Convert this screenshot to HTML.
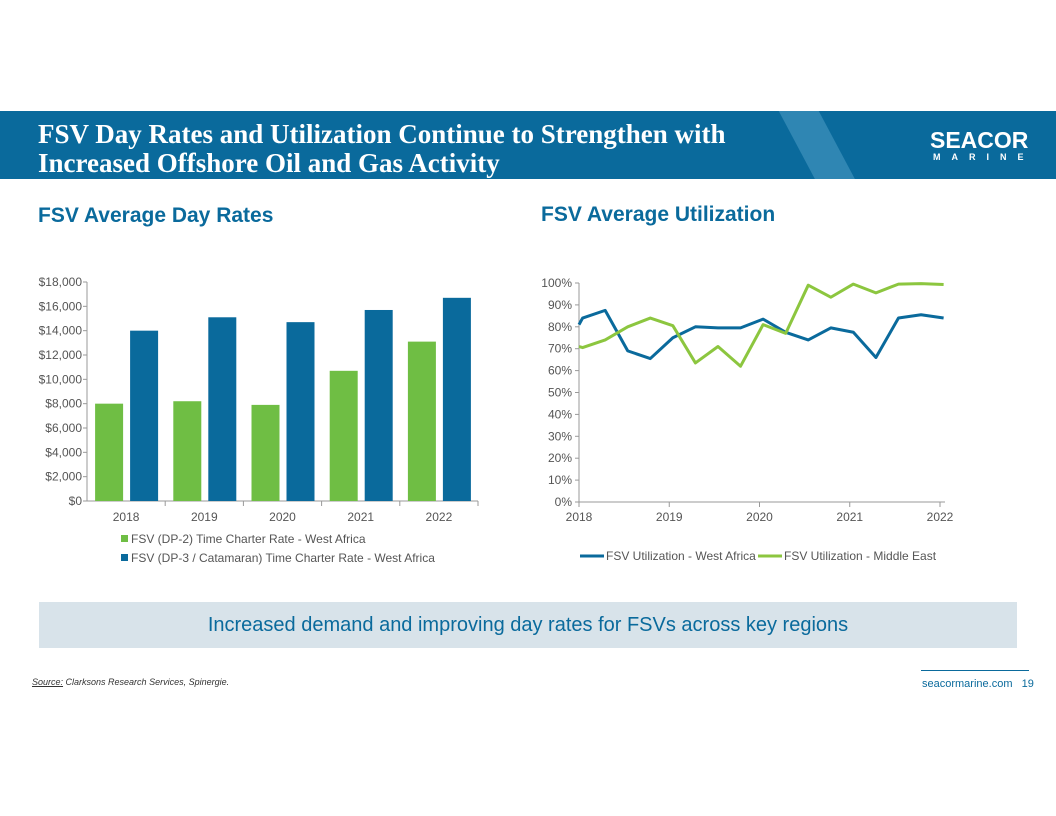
<!DOCTYPE html>
<html><head><meta charset="utf-8">
<style>
body{margin:0;width:1056px;height:816px;background:#fff;font-family:"Liberation Sans",sans-serif;position:relative;overflow:hidden}
.abs{position:absolute}
</style></head><body>
<div class="abs" style="left:0;top:111px;width:1056px;height:68px;background:#0a6a9c;overflow:hidden">
  <div class="abs" style="left:800px;top:-10px;width:40px;height:100px;background:#2f86b3;transform:skewX(28deg)"></div>
  <div class="abs" style="left:38px;top:9px;color:#fff;font-family:'Liberation Serif',serif;font-weight:bold;font-size:27px;line-height:29px">FSV Day Rates and Utilization Continue to Strengthen with<br>Increased Offshore Oil and Gas Activity</div>
  <div class="abs" style="left:930px;top:18px;color:#fff;font-weight:bold;font-size:23px;line-height:22px">SEACOR</div>
  <div class="abs" style="left:933px;top:41px;color:#fff;font-weight:bold;font-size:9px;letter-spacing:11px">MARINE</div>
</div>
<div class="abs" style="left:38px;top:204px;color:#0a6a9c;font-weight:bold;font-size:21px">FSV Average Day Rates</div>
<div class="abs" style="left:541px;top:203px;color:#0a6a9c;font-weight:bold;font-size:21px">FSV Average Utilization</div>

<svg class="abs" style="left:0;top:0" width="1056" height="816" id="charts"></svg>

<div class="abs" style="left:39px;top:602px;width:978px;height:46px;background:#d8e3ea;color:#0a6a9c;font-size:20px;text-align:center;line-height:46px">Increased demand and improving day rates for FSVs across key regions</div>
<div class="abs" style="left:921px;top:670px;width:108px;border-top:1px solid #0a6a9c"></div>
<div class="abs" style="left:32px;top:677px;font-size:9px;font-style:italic;color:#333"><u>Source:</u> Clarksons Research Services, Spinergie.</div>
<div class="abs" style="left:922px;top:678px;font-size:11px;color:#0a6a9c">seacormarine.com&nbsp;&nbsp;&nbsp;19</div>

<script>
const years=["2018","2019","2020","2021","2022"];
const dp2=[8000,8200,7900,10700,13100];
const dp3=[14000,15100,14700,15700,16700];
const rateTicks=[0,2000,4000,6000,8000,10000,12000,14000,16000,18000];
const utilX=[2018,2018.04,2018.29,2018.54,2018.79,2019.04,2019.29,2019.54,2019.79,2020.04,2020.29,2020.54,2020.79,2021.04,2021.29,2021.54,2021.79,2022.04];
const westAfrica=[81,84,87.5,69,65.5,75,80,79.5,79.5,83.5,77.5,74,79.5,77.5,66,84,85.5,84];
const middleEast=[71,70.5,74,80,84,80.5,63.5,71,62,81,77,99,93.5,99.5,95.5,99.5,99.7,99.3];
const utilTicks=[0,10,20,30,40,50,60,70,80,90,100];
const NS="http://www.w3.org/2000/svg";
const svg=document.getElementById('charts');
function mk(t,a,txt){const e=document.createElementNS(NS,t);for(const k in a)e.setAttribute(k,a[k]);if(txt!==undefined)e.textContent=txt;svg.appendChild(e);return e;}
const G="#6fbe44",B="#0a6a9c",T="#555";
const bx0=87,bx1=478,by0=501,by1=282;
const yB=v=>by0-(by0-by1)*v/18000;
const gw=(bx1-bx0)/5;
rateTicks.forEach(v=>{
 const t=mk('text',{x:bx0-5,y:yB(v)+4,'text-anchor':'end','font-size':12,fill:T},'$'+v.toLocaleString('en-US'));
 
 mk('line',{x1:bx0-4,x2:bx0,y1:yB(v),y2:yB(v),stroke:'#999'});
});
mk('line',{x1:bx0,x2:bx0,y1:by1,y2:by0,stroke:'#999'});
mk('line',{x1:bx0,x2:bx1,y1:by0,y2:by0,stroke:'#999'});
years.forEach((y,i)=>{
 const cx=bx0+gw*(i+0.5);
 let r=mk('rect',{x:cx-31,y:yB(dp2[i]),width:28,height:by0-yB(dp2[i]),fill:G});
 
 r=mk('rect',{x:cx+4,y:yB(dp3[i]),width:28,height:by0-yB(dp3[i]),fill:B});
 
 mk('line',{x1:bx0+gw*(i+1),x2:bx0+gw*(i+1),y1:by0,y2:by0+5,stroke:'#999'});
 const t=mk('text',{x:cx,y:521,'text-anchor':'middle','font-size':12,fill:T},y);
 
});
mk('rect',{x:121,y:535,width:7,height:7,fill:G});
let l=mk('text',{x:131,y:543,'font-size':12,fill:T},'FSV (DP-2) Time Charter Rate - West Africa');

mk('rect',{x:121,y:554,width:7,height:7,fill:B});
l=mk('text',{x:131,y:562,'font-size':12,fill:T},'FSV (DP-3 / Catamaran) Time Charter Rate - West Africa');

const lx0=579,lx1=940,ly0=502,ly1=283;
const xL=v=>lx0+(v-2018)*(lx1-lx0)/4;
const yL=v=>ly0-(ly0-ly1)*v/100;
utilTicks.forEach(v=>{
 const t=mk('text',{x:lx0-7,y:yL(v)+4,'text-anchor':'end','font-size':12,fill:T},v+'%');
 
 mk('line',{x1:lx0-4,x2:lx0,y1:yL(v),y2:yL(v),stroke:'#999'});
});
mk('line',{x1:lx0,x2:lx0,y1:ly1,y2:ly0,stroke:'#999'});
mk('line',{x1:lx0,x2:945,y1:ly0,y2:ly0,stroke:'#999'});
years.forEach((y,i)=>{
 const x=xL(2018+i);
 mk('line',{x1:x,x2:x,y1:ly0,y2:ly0+5,stroke:'#999'});
 const t=mk('text',{x:x,y:521,'text-anchor':'middle','font-size':12,fill:T},y);
 
});
let p=mk('polyline',{points:utilX.map((x,i)=>xL(x)+','+yL(westAfrica[i])).join(' '),fill:'none',stroke:B,'stroke-width':3,'stroke-linejoin':'round'});

p=mk('polyline',{points:utilX.map((x,i)=>xL(x)+','+yL(middleEast[i])).join(' '),fill:'none',stroke:'#8cc63f','stroke-width':3,'stroke-linejoin':'round'});

mk('line',{x1:580,x2:604,y1:556,y2:556,stroke:B,'stroke-width':3});
l=mk('text',{x:606,y:560,'font-size':12,fill:T},'FSV Utilization - West Africa');

mk('line',{x1:758,x2:782,y1:556,y2:556,stroke:'#8cc63f','stroke-width':3});
l=mk('text',{x:784,y:560,'font-size':12,fill:T},'FSV Utilization - Middle East');

</script>
</body></html>
